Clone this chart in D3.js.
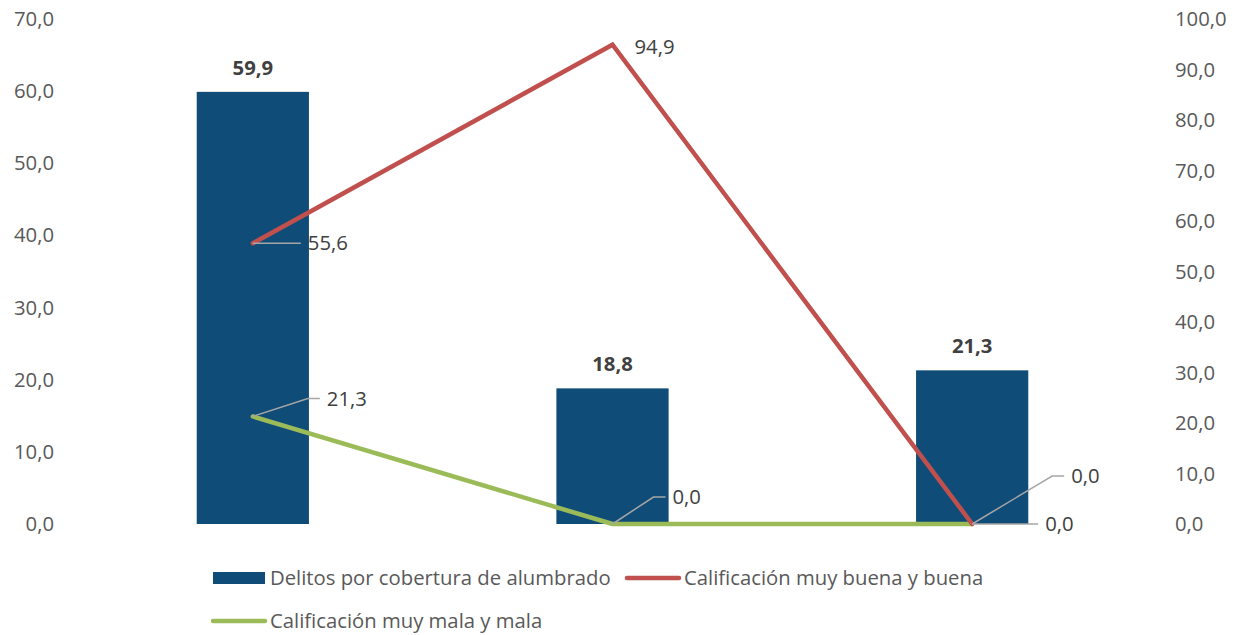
<!DOCTYPE html>
<html>
<head>
<meta charset="utf-8">
<script src="https://cdn.jsdelivr.net/npm/d3@7"></script>
<style>
  html, body { margin: 0; padding: 0; background: #fff; }
  svg { display: block; font-family: "Open Sans", "Noto Sans", sans-serif; }
</style>
</head>
<body>
<svg id="chart" width="1238" height="635"></svg>
<script>
// Categories (unnamed on the axis) and series values
const categories = ["A", "B", "C"];
const delitos = [59.9, 18.8, 21.3];
const buena = [55.6, 94.9, 0.0];
const mala = [21.3, 0.0, 0.0];
const leftTicks = [0, 10, 20, 30, 40, 50, 60, 70];
const rightTicks = [0, 10, 20, 30, 40, 50, 60, 70, 80, 90, 100];
const seriesNames = ["Delitos por cobertura de alumbrado", "Calificación muy buena y buena", "Calificación muy mala y mala"];

const colors = { bar: "#0f4c78", red: "#c0504d", green: "#9bbb59", text: "#595959", leader: "#a6a6a6" };
const fmt = v => d3.format(".1f")(v).replace(".", ",");
const FS = "20.3px";

const svg = d3.select("#chart");
const plot = { left: 73, right: 1152, top: 19, bottom: 524 };

const x = d3.scaleBand().domain(categories).range([plot.left, plot.right]).paddingInner(0.688).paddingOuter(0.344);
const yL = d3.scaleLinear().domain([0, 70]).range([plot.bottom, plot.top]);
const yR = d3.scaleLinear().domain([0, 100]).range([plot.bottom, plot.top]);
const cx = c => x(c) + x.bandwidth() / 2;

// Left axis
const axL = svg.append("g").attr("transform", `translate(${plot.left - 19},0)`)
  .call(d3.axisLeft(yL).tickValues(leftTicks).tickFormat(fmt).tickSize(0).tickPadding(0));
// Right axis
const axR = svg.append("g").attr("transform", `translate(${plot.right + 23},0)`)
  .call(d3.axisRight(yR).tickValues(rightTicks).tickFormat(fmt).tickSize(0).tickPadding(0));
[axL, axR].forEach(a => {
  a.select(".domain").remove();
  a.selectAll("text").attr("fill", colors.text).style("font-size", FS)
    .style("font-family", "'Open Sans', sans-serif");
});

// Bars
svg.append("g").selectAll("rect").data(categories).join("rect")
  .attr("x", d => x(d)).attr("width", x.bandwidth())
  .attr("y", (d, i) => yL(delitos[i]))
  .attr("height", (d, i) => yL(0) - yL(delitos[i]))
  .attr("fill", colors.bar);

// Bar value labels
svg.append("g").selectAll("text").data(categories).join("text")
  .attr("x", d => cx(d)).attr("y", (d, i) => yL(delitos[i]) - 24)
  .attr("dy", "0.35em")
  .attr("text-anchor", "middle").attr("fill", "#404040")
  .style("font-size", FS).style("font-weight", "bold")
  .text((d, i) => fmt(delitos[i]));

// Lines on the right axis
const line = d3.line().x((d, i) => cx(categories[i])).y(d => yR(d));
svg.append("path").datum(mala).attr("d", line).attr("fill", "none")
  .attr("stroke", colors.green).attr("stroke-width", 4.5).attr("stroke-linejoin", "round").attr("stroke-linecap", "round");
svg.append("path").datum(buena).attr("d", line).attr("fill", "none")
  .attr("stroke", colors.red).attr("stroke-width", 4.5).attr("stroke-linejoin", "miter").attr("stroke-linecap", "round");

// Point labels with leader lines: offset to the leader end and the kind of leader drawn
const labelSpecs = [
  { s: buena, i: 0, dx: 50, dy: 0, leader: "h" },
  { s: buena, i: 1, dx: 17, dy: 2, leader: null },
  { s: buena, i: 2, dx: 68, dy: 0, leader: "h" },
  { s: mala, i: 0, dx: 69, dy: -18, leader: "d" },
  { s: mala, i: 1, dx: 55, dy: -27, leader: "d" },
  { s: mala, i: 2, dx: 94, dy: -48, leader: "d" }
];
const lg = svg.append("g");
labelSpecs.forEach(sp => {
  const px = cx(categories[sp.i]), py = yR(sp.s[sp.i]);
  const tx = px + sp.dx, ty = py + sp.dy;
  if (sp.leader === "h") {
    lg.append("line").attr("x1", px).attr("y1", py).attr("x2", tx - 2).attr("y2", py)
      .attr("stroke", colors.leader).attr("stroke-width", 1.5);
  } else if (sp.leader === "d") {
    lg.append("polyline").attr("points", `${px},${py} ${tx - 14},${ty} ${tx - 2},${ty}`)
      .attr("fill", "none").attr("stroke", colors.leader).attr("stroke-width", 1.5);
  }
  lg.append("text").attr("x", tx + 5).attr("y", ty).attr("dy", "0.35em")
    .attr("fill", "#404040").style("font-size", FS).text(fmt(sp.s[sp.i]));
});

// Legend
const leg = svg.append("g").style("font-size", FS).attr("fill", colors.text);
leg.append("rect").attr("x", 213).attr("y", 572).attr("width", 52).attr("height", 12).attr("fill", colors.bar);
leg.append("text").attr("x", 270).attr("y", 578).attr("dy", "0.35em").attr("fill", colors.text).text(seriesNames[0]);
leg.append("line").attr("x1", 627).attr("x2", 679).attr("y1", 578).attr("y2", 578)
  .attr("stroke", colors.red).attr("stroke-width", 4.5).attr("stroke-linecap", "round");
leg.append("text").attr("x", 684).attr("y", 578).attr("dy", "0.35em").attr("fill", colors.text).text(seriesNames[1]);
leg.append("line").attr("x1", 213).attr("x2", 265).attr("y1", 621).attr("y2", 621)
  .attr("stroke", colors.green).attr("stroke-width", 4.5).attr("stroke-linecap", "round");
leg.append("text").attr("x", 270).attr("y", 621).attr("dy", "0.35em").attr("fill", colors.text).text(seriesNames[2]);
</script>
</body>
</html>
